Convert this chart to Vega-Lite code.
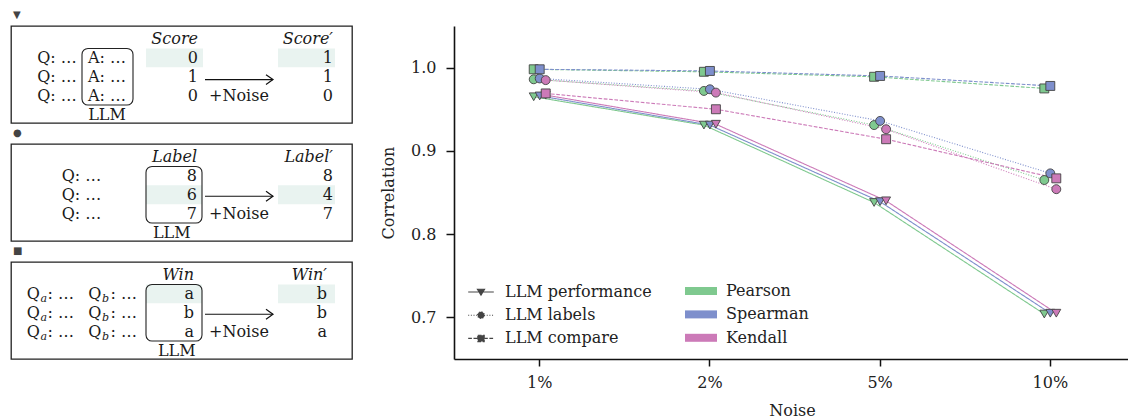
{
  "$schema": "https://vega.github.io/schema/vega-lite/v6.json",
  "background": "white",
  "padding": {"left": 10, "top": 9, "right": 0, "bottom": 0},
  "autosize": {"type": "pad"},
  "datasets": {
    "corr": [
      {"noise": "1%", "metric": "Pearson", "series": "LLM performance", "value": 0.965},
      {"noise": "2%", "metric": "Pearson", "series": "LLM performance", "value": 0.931},
      {"noise": "5%", "metric": "Pearson", "series": "LLM performance", "value": 0.838},
      {"noise": "10%", "metric": "Pearson", "series": "LLM performance", "value": 0.704},
      {"noise": "1%", "metric": "Spearman", "series": "LLM performance", "value": 0.966},
      {"noise": "2%", "metric": "Spearman", "series": "LLM performance", "value": 0.931},
      {"noise": "5%", "metric": "Spearman", "series": "LLM performance", "value": 0.839},
      {"noise": "10%", "metric": "Spearman", "series": "LLM performance", "value": 0.705},
      {"noise": "1%", "metric": "Kendall", "series": "LLM performance", "value": 0.967},
      {"noise": "2%", "metric": "Kendall", "series": "LLM performance", "value": 0.932},
      {"noise": "5%", "metric": "Kendall", "series": "LLM performance", "value": 0.840},
      {"noise": "10%", "metric": "Kendall", "series": "LLM performance", "value": 0.705},
      {"noise": "1%", "metric": "Pearson", "series": "LLM labels", "value": 0.986},
      {"noise": "2%", "metric": "Pearson", "series": "LLM labels", "value": 0.972},
      {"noise": "5%", "metric": "Pearson", "series": "LLM labels", "value": 0.931},
      {"noise": "10%", "metric": "Pearson", "series": "LLM labels", "value": 0.865},
      {"noise": "1%", "metric": "Spearman", "series": "LLM labels", "value": 0.987},
      {"noise": "2%", "metric": "Spearman", "series": "LLM labels", "value": 0.974},
      {"noise": "5%", "metric": "Spearman", "series": "LLM labels", "value": 0.936},
      {"noise": "10%", "metric": "Spearman", "series": "LLM labels", "value": 0.873},
      {"noise": "1%", "metric": "Kendall", "series": "LLM labels", "value": 0.985},
      {"noise": "2%", "metric": "Kendall", "series": "LLM labels", "value": 0.970},
      {"noise": "5%", "metric": "Kendall", "series": "LLM labels", "value": 0.926},
      {"noise": "10%", "metric": "Kendall", "series": "LLM labels", "value": 0.854},
      {"noise": "1%", "metric": "Pearson", "series": "LLM compare", "value": 0.998},
      {"noise": "2%", "metric": "Pearson", "series": "LLM compare", "value": 0.995},
      {"noise": "5%", "metric": "Pearson", "series": "LLM compare", "value": 0.989},
      {"noise": "10%", "metric": "Pearson", "series": "LLM compare", "value": 0.975},
      {"noise": "1%", "metric": "Spearman", "series": "LLM compare", "value": 0.998},
      {"noise": "2%", "metric": "Spearman", "series": "LLM compare", "value": 0.996},
      {"noise": "5%", "metric": "Spearman", "series": "LLM compare", "value": 0.990},
      {"noise": "10%", "metric": "Spearman", "series": "LLM compare", "value": 0.978},
      {"noise": "1%", "metric": "Kendall", "series": "LLM compare", "value": 0.969},
      {"noise": "2%", "metric": "Kendall", "series": "LLM compare", "value": 0.950},
      {"noise": "5%", "metric": "Kendall", "series": "LLM compare", "value": 0.914},
      {"noise": "10%", "metric": "Kendall", "series": "LLM compare", "value": 0.867}
    ],
    "p1": [
      {"k": "shade", "c": 4, "c2": 6, "r": 0.5, "r2": 1.5},
      {"k": "shade", "c": 10, "c2": 12, "r": 0.5, "r2": 1.5},
      {"k": "box", "c": 1, "c2": 3, "r": 0.5, "r2": 3.5},
      {"k": "arrow", "c": 7, "c2": 9, "r": 2.15},
      {"k": "mid", "c": 0, "r": 1, "t": "Q: …"},
      {"k": "mid", "c": 0, "r": 2, "t": "Q: …"},
      {"k": "mid", "c": 0, "r": 3, "t": "Q: …"},
      {"k": "mid", "c": 2, "r": 1, "t": "A: …"},
      {"k": "mid", "c": 2, "r": 2, "t": "A: …"},
      {"k": "mid", "c": 2, "r": 3, "t": "A: …"},
      {"k": "mid", "c": 8, "r": 3, "t": "+Noise"},
      {"k": "mid", "c": 2, "r": 4, "t": "LLM"},
      {"k": "num", "c": 5, "r": 1, "t": "0"},
      {"k": "num", "c": 5, "r": 2, "t": "1"},
      {"k": "num", "c": 5, "r": 3, "t": "0"},
      {"k": "num", "c": 11, "r": 1, "t": "1"},
      {"k": "num", "c": 11, "r": 2, "t": "1"},
      {"k": "num", "c": 11, "r": 3, "t": "0"},
      {"k": "head", "c": 5, "r": 0, "t": "Score"},
      {"k": "head", "c": 11, "r": 0, "t": "Score′"}
    ],
    "p2": [
      {"k": "shade", "c": 1, "c2": 4, "r": 1.5, "r2": 2.5},
      {"k": "shade", "c": 8, "c2": 10, "r": 1.5, "r2": 2.5},
      {"k": "box", "c": 1, "c2": 4, "r": 0.5, "r2": 3.5},
      {"k": "arrow", "c": 5, "c2": 7, "r": 2.08},
      {"k": "mid", "c": 0, "r": 1, "t": "Q: …"},
      {"k": "mid", "c": 0, "r": 2, "t": "Q: …"},
      {"k": "mid", "c": 0, "r": 3, "t": "Q: …"},
      {"k": "mid", "c": 6, "r": 3, "t": "+Noise"},
      {"k": "mid", "c": 2, "r": 4, "t": "LLM"},
      {"k": "num", "c": 3, "r": 1, "t": "8"},
      {"k": "num", "c": 3, "r": 2, "t": "6"},
      {"k": "num", "c": 3, "r": 3, "t": "7"},
      {"k": "num", "c": 9, "r": 1, "t": "8"},
      {"k": "num", "c": 9, "r": 2, "t": "4"},
      {"k": "num", "c": 9, "r": 3, "t": "7"},
      {"k": "head", "c": 3, "r": 0, "t": "Label"},
      {"k": "head", "c": 9, "r": 0, "t": "Label′"}
    ],
    "p3": [
      {"k": "shade", "c": 6, "c2": 9, "r": 0.5, "r2": 1.5},
      {"k": "shade", "c": 13, "c2": 15, "r": 0.5, "r2": 1.5},
      {"k": "box", "c": 6, "c2": 9, "r": 0.5, "r2": 3.5},
      {"k": "arrow", "c": 10, "c2": 12, "r": 2.08},
      {"k": "left", "c": 0, "r": 1, "t": "Q"},
      {"k": "left", "c": 0, "r": 2, "t": "Q"},
      {"k": "left", "c": 0, "r": 3, "t": "Q"},
      {"k": "sub", "c": 1, "r": 1, "t": "a"},
      {"k": "sub", "c": 1, "r": 2, "t": "a"},
      {"k": "sub", "c": 1, "r": 3, "t": "a"},
      {"k": "left", "c": 2, "r": 1, "t": ": …"},
      {"k": "left", "c": 2, "r": 2, "t": ": …"},
      {"k": "left", "c": 2, "r": 3, "t": ": …"},
      {"k": "left", "c": 3, "r": 1, "t": "Q"},
      {"k": "left", "c": 3, "r": 2, "t": "Q"},
      {"k": "left", "c": 3, "r": 3, "t": "Q"},
      {"k": "sub", "c": 4, "r": 1, "t": "b"},
      {"k": "sub", "c": 4, "r": 2, "t": "b"},
      {"k": "sub", "c": 4, "r": 3, "t": "b"},
      {"k": "left", "c": 5, "r": 1, "t": ": …"},
      {"k": "left", "c": 5, "r": 2, "t": ": …"},
      {"k": "left", "c": 5, "r": 3, "t": ": …"},
      {"k": "mid", "c": 11, "r": 3, "t": "+Noise"},
      {"k": "mid", "c": 7, "r": 4, "t": "LLM"},
      {"k": "num", "c": 8, "r": 1, "t": "a"},
      {"k": "num", "c": 8, "r": 2, "t": "b"},
      {"k": "num", "c": 8, "r": 3, "t": "a"},
      {"k": "num", "c": 14, "r": 1, "t": "b"},
      {"k": "num", "c": 14, "r": 2, "t": "b"},
      {"k": "num", "c": 14, "r": 3, "t": "a"},
      {"k": "head", "c": 8, "r": 0, "t": "Win"},
      {"k": "head", "c": 14, "r": 0, "t": "Win′"}
    ]
  },
  "spacing": 27,
  "hconcat": [
    {
      "spacing": 21,
      "bounds": "flush",
      "vconcat": [
        {
          "width": 341, "height": 97,
          "view": {"stroke": "#222", "strokeWidth": 1.3},
          "title": {"text": "▼", "anchor": "start", "font": "DejaVu Sans", "fontSize": 10, "color": "#444", "offset": 6, "dx": 2},
          "data": {"name": "p1"},
          "encoding": {
            "x": {"field": "c", "type": "quantitative", "axis": null, "scale": {"domain": [0,1,2,3,4,5,6,7,8,9,10,11,12], "range": [46,71,96,122,135,187,192,194,228,262,267,322,324], "nice": false, "zero": false}},
            "y": {"field": "r", "type": "quantitative", "axis": null, "scale": {"domain": [0, 4], "range": [13, 88.5], "nice": false, "zero": false}}
          },
          "layer": [
            {"transform": [{"filter": "datum.k === 'shade'"}], "mark": {"type": "rect", "fill": "#e9f3f0"}, "encoding": {"x2": {"field": "c2"}, "y2": {"field": "r2"}}},
            {"transform": [{"filter": "datum.k === 'box'"}], "mark": {"type": "rect", "filled": false, "stroke": "#222", "strokeWidth": 1.1, "cornerRadius": 6}, "encoding": {"x2": {"field": "c2"}, "y2": {"field": "r2"}}},
            {"transform": [{"filter": "datum.k === 'arrow'"}], "mark": {"type": "rule", "stroke": "#111", "strokeWidth": 1.2}, "encoding": {"x2": {"field": "c2"}}},
            {"transform": [{"filter": "datum.k === 'arrow'"}], "mark": {"type": "point", "shape": "M-1,-0.7L0,0L-1,0.7", "filled": false, "stroke": "#111", "strokeWidth": 1.2, "size": 196, "opacity": 1},
             "encoding": {"x": {"field": "c2", "type": "quantitative", "axis": null, "scale": {"domain": [0,1,2,3,4,5,6,7,8,9,10,11,12], "range": [46,71,96,122,135,187,192,194,228,262,267,322,324], "nice": false, "zero": false}}}},
            {"transform": [{"filter": "datum.k === 'mid'"}], "mark": {"type": "text", "align": "center", "baseline": "middle", "font": "DejaVu Serif", "fontSize": 16, "color": "#1a1a1a"}, "encoding": {"text": {"field": "t"}}},
            {"transform": [{"filter": "datum.k === 'num'"}], "mark": {"type": "text", "align": "right", "baseline": "middle", "font": "DejaVu Serif", "fontSize": 16, "color": "#1a1a1a"}, "encoding": {"text": {"field": "t"}}},
            {"transform": [{"filter": "datum.k === 'head'"}], "mark": {"type": "text", "align": "right", "baseline": "middle", "font": "DejaVu Serif", "fontStyle": "italic", "fontSize": 16, "color": "#1a1a1a"}, "encoding": {"text": {"field": "t"}}}
          ]
        },
        {
          "width": 341, "height": 97,
          "view": {"stroke": "#222", "strokeWidth": 1.3},
          "title": {"text": "●", "anchor": "start", "font": "DejaVu Sans", "fontSize": 10, "color": "#444", "offset": 6, "dx": 2},
          "data": {"name": "p2"},
          "encoding": {
            "x": {"field": "c", "type": "quantitative", "axis": null, "scale": {"domain": [0,1,2,3,4,5,6,7,8,9,10], "range": [70.5,135,160.7,186,191,194,228,262,267,322,324], "nice": false, "zero": false}},
            "y": {"field": "r", "type": "quantitative", "axis": null, "scale": {"domain": [0, 4], "range": [13, 88.5], "nice": false, "zero": false}}
          },
          "layer": [
            {"transform": [{"filter": "datum.k === 'shade'"}], "mark": {"type": "rect", "fill": "#e9f3f0"}, "encoding": {"x2": {"field": "c2"}, "y2": {"field": "r2"}}},
            {"transform": [{"filter": "datum.k === 'box'"}], "mark": {"type": "rect", "filled": false, "stroke": "#222", "strokeWidth": 1.1, "cornerRadius": 6}, "encoding": {"x2": {"field": "c2"}, "y2": {"field": "r2"}}},
            {"transform": [{"filter": "datum.k === 'arrow'"}], "mark": {"type": "rule", "stroke": "#111", "strokeWidth": 1.2}, "encoding": {"x2": {"field": "c2"}}},
            {"transform": [{"filter": "datum.k === 'arrow'"}], "mark": {"type": "point", "shape": "M-1,-0.7L0,0L-1,0.7", "filled": false, "stroke": "#111", "strokeWidth": 1.2, "size": 196, "opacity": 1},
             "encoding": {"x": {"field": "c2", "type": "quantitative", "axis": null, "scale": {"domain": [0,1,2,3,4,5,6,7,8,9,10], "range": [70.5,135,160.7,186,191,194,228,262,267,322,324], "nice": false, "zero": false}}}},
            {"transform": [{"filter": "datum.k === 'mid'"}], "mark": {"type": "text", "align": "center", "baseline": "middle", "font": "DejaVu Serif", "fontSize": 16, "color": "#1a1a1a"}, "encoding": {"text": {"field": "t"}}},
            {"transform": [{"filter": "datum.k === 'num'"}], "mark": {"type": "text", "align": "right", "baseline": "middle", "font": "DejaVu Serif", "fontSize": 16, "color": "#1a1a1a"}, "encoding": {"text": {"field": "t"}}},
            {"transform": [{"filter": "datum.k === 'head'"}], "mark": {"type": "text", "align": "right", "baseline": "middle", "font": "DejaVu Serif", "fontStyle": "italic", "fontSize": 16, "color": "#1a1a1a"}, "encoding": {"text": {"field": "t"}}}
          ]
        },
        {
          "width": 341, "height": 97,
          "view": {"stroke": "#222", "strokeWidth": 1.3},
          "title": {"text": "■", "anchor": "start", "font": "DejaVu Sans", "fontSize": 10, "color": "#444", "offset": 6, "dx": 2},
          "data": {"name": "p3"},
          "encoding": {
            "x": {"field": "c", "type": "quantitative", "axis": null, "scale": {"domain": [0,1,2,3,4,5,6,7,8,9,10,11,12,13,14,15], "range": [15.7,29.5,36.5,77.3,91,99.5,135,165.7,183,191,194,228,262,267,316,324], "nice": false, "zero": false}},
            "y": {"field": "r", "type": "quantitative", "axis": null, "scale": {"domain": [0, 4], "range": [13, 88.5], "nice": false, "zero": false}}
          },
          "layer": [
            {"transform": [{"filter": "datum.k === 'shade'"}], "mark": {"type": "rect", "fill": "#e9f3f0"}, "encoding": {"x2": {"field": "c2"}, "y2": {"field": "r2"}}},
            {"transform": [{"filter": "datum.k === 'box'"}], "mark": {"type": "rect", "filled": false, "stroke": "#222", "strokeWidth": 1.1, "cornerRadius": 6}, "encoding": {"x2": {"field": "c2"}, "y2": {"field": "r2"}}},
            {"transform": [{"filter": "datum.k === 'arrow'"}], "mark": {"type": "rule", "stroke": "#111", "strokeWidth": 1.2}, "encoding": {"x2": {"field": "c2"}}},
            {"transform": [{"filter": "datum.k === 'arrow'"}], "mark": {"type": "point", "shape": "M-1,-0.7L0,0L-1,0.7", "filled": false, "stroke": "#111", "strokeWidth": 1.2, "size": 196, "opacity": 1},
             "encoding": {"x": {"field": "c2", "type": "quantitative", "axis": null, "scale": {"domain": [0,1,2,3,4,5,6,7,8,9,10,11,12,13,14,15], "range": [15.7,29.5,36.5,77.3,91,99.5,135,165.7,183,191,194,228,262,267,316,324], "nice": false, "zero": false}}}},
            {"transform": [{"filter": "datum.k === 'mid'"}], "mark": {"type": "text", "align": "center", "baseline": "middle", "font": "DejaVu Serif", "fontSize": 16, "color": "#1a1a1a"}, "encoding": {"text": {"field": "t"}}},
            {"transform": [{"filter": "datum.k === 'num'"}], "mark": {"type": "text", "align": "right", "baseline": "middle", "font": "DejaVu Serif", "fontSize": 16, "color": "#1a1a1a"}, "encoding": {"text": {"field": "t"}}},
            {"transform": [{"filter": "datum.k === 'head'"}], "mark": {"type": "text", "align": "right", "baseline": "middle", "font": "DejaVu Serif", "fontStyle": "italic", "fontSize": 16, "color": "#1a1a1a"}, "encoding": {"text": {"field": "t"}}},
            {"transform": [{"filter": "datum.k === 'left'"}], "mark": {"type": "text", "align": "left", "baseline": "middle", "font": "DejaVu Serif", "fontSize": 16, "color": "#1a1a1a"}, "encoding": {"text": {"field": "t"}}},
            {"transform": [{"filter": "datum.k === 'sub'"}], "mark": {"type": "text", "align": "left", "baseline": "middle", "font": "DejaVu Serif", "fontStyle": "italic", "fontSize": 11, "dy": 5, "color": "#1a1a1a"}, "encoding": {"text": {"field": "t"}}}
          ]
        }
      ]
    },
    {
      "width": 676,
      "height": 333,
      "title": {"text": "▼", "anchor": "start", "font": "DejaVu Sans", "fontSize": 10, "color": "transparent", "offset": 6},
      "data": {"name": "corr"},
      "encoding": {
        "x": {"field": "noise", "type": "nominal", "sort": ["1%", "2%", "5%", "10%"], "title": "Noise",
              "scale": {"type": "band", "paddingInner": 0.9295, "paddingOuter": 0.4507, "align": 0.5196},
              "axis": {"labelAngle": 0, "labelPadding": 8, "tickSize": 7, "titlePadding": 12}},
        "xOffset": {"field": "metric", "type": "nominal", "sort": ["Pearson", "Spearman", "Kendall"], "scale": {"type": "point", "padding": 0}},
        "y": {"field": "value", "type": "quantitative", "title": "Correlation",
              "scale": {"domain": [0.65, 1.05], "nice": false, "zero": false},
              "axis": {"values": [0.7, 0.8, 0.9, 1.0], "format": ".1f", "labelPadding": 10, "tickSize": 8, "titlePadding": 14}}
      },
      "layer": [
        {
          "mark": {"type": "line", "strokeWidth": 1.1},
          "encoding": {
            "color": {"field": "metric", "type": "nominal",
                      "scale": {"domain": ["Pearson", "Spearman", "Kendall"], "range": ["#7fc98f", "#7e8fcc", "#cc7ab8"]},
                      "legend": {"orient": "none", "legendX": 682, "legendY": 257, "title": null, "padding": 0,
                                 "symbolType": "M-2,-0.5H2V0.5H-2Z", "symbolSize": 256, "symbolStrokeWidth": 0,
                                 "labelFont": "DejaVu Serif", "labelFontSize": 16, "labelColor": "#222", "labelOffset": 17, "rowPadding": 7.4}},
            "strokeDash": {"field": "series", "type": "nominal",
                           "scale": {"domain": ["LLM performance", "LLM labels", "LLM compare"], "range": [[1, 0], [1, 1.65], [3.7, 1.6]]},
                           "legend": {"orient": "none", "legendX": 461, "legendY": 257, "title": null, "padding": 0,
                                 "symbolSize": 256, "symbolFillColor": "#444", "symbolStrokeColor": "#444", "symbolStrokeWidth": 1.1, "symbolOpacity": 1,
                                 "labelFont": "DejaVu Serif", "labelFontSize": 16, "labelColor": "#222", "labelOffset": 15, "rowPadding": 6.2,
                                 "encode": {"symbols": {"update": {
                                   "shape": {"signal": "datum.value === 'LLM performance' ? 'M-1.6,0H1.6M-0.45,-0.35L0.45,-0.35L0,0.4Z' : datum.value === 'LLM labels' ? 'M-1.6,0H1.6M0.42,0A0.42,0.42 0 1,1 -0.42,0A0.42,0.42 0 1,1 0.42,0Z' : 'M-1.6,0H1.6M-0.4,-0.4H0.4V0.4H-0.4Z'"},
                                   "fill": {"value": "#444"}, "stroke": {"value": "#444"}, "strokeWidth": {"value": 1.1}, "opacity": {"value": 1}}}}}}
          }
        },
        {
          "mark": {"type": "point", "filled": true, "stroke": "#444", "strokeWidth": 0.9, "opacity": 1, "size": 80},
          "encoding": {
            "color": {"field": "metric", "type": "nominal",
                      "scale": {"domain": ["Pearson", "Spearman", "Kendall"], "range": ["#7fc98f", "#7e8fcc", "#cc7ab8"]},
                      "legend": {"orient": "none", "legendX": 682, "legendY": 257, "title": null, "padding": 0,
                                 "symbolType": "M-2,-0.5H2V0.5H-2Z", "symbolSize": 256, "symbolStrokeWidth": 0,
                                 "labelFont": "DejaVu Serif", "labelFontSize": 16, "labelColor": "#222", "labelOffset": 17, "rowPadding": 7.4}},
            "shape": {"field": "series", "type": "nominal",
                      "scale": {"domain": ["LLM compare", "LLM labels", "LLM performance"], "range": ["square", "circle", "triangle-down"]},
                      "legend": null}
          }
        }
      ]
    }
  ],
  "config": {
    "view": {"stroke": null},
    "font": "DejaVu Serif",
    "axis": {
      "grid": false,
      "labelFont": "DejaVu Serif", "labelFontSize": 16, "labelColor": "#222",
      "titleFont": "DejaVu Serif", "titleFontSize": 16, "titleFontWeight": "normal", "titleColor": "#222",
      "domainColor": "#111", "domainWidth": 1.6, "tickColor": "#111", "tickWidth": 1.5
    }
  }
}
